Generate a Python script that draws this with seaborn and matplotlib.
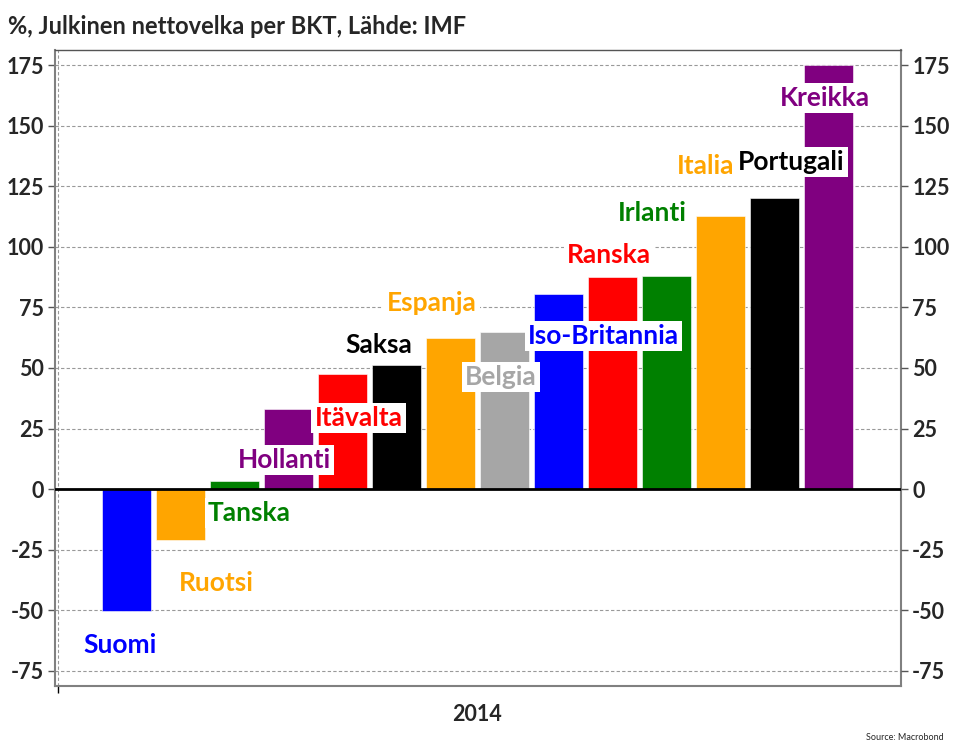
import matplotlib
matplotlib.use("Agg")
import matplotlib.pyplot as plt
import seaborn as sns
import pandas as pd

countries = ["Suomi", "Ruotsi", "Tanska", "Hollanti", "Itävalta", "Saksa", "Espanja",
             "Belgia", "Iso-Britannia", "Ranska", "Irlanti", "Italia", "Portugali", "Kreikka"]
values = [-50.2, -21.0, 3.4, 33.1, 47.5, 51.2, 62.4, 64.8, 80.5, 87.5, 87.9, 112.7, 120.1, 175.0]
colors = ["#0000FF", "#FFA500", "#008000", "#800080", "#FF0000", "#000000", "#FFA500",
          "#A6A6A6", "#0000FF", "#FF0000", "#008000", "#FFA500", "#000000", "#800080"]
label_x = [-0.11, 1.67, 2.28, 2.93, 4.30, 4.67, 5.65, 6.93, 8.83, 8.94, 9.74, 10.72, 12.31, 12.94]
label_y = [-64.3, -38.6, -9.8, 12.0, 29.4, 59.5, 76.8, 46.3, 63.2, 96.6, 114.0, 133.3, 135.0, 161.4]
yticks = [-75, -50, -25, 0, 25, 50, 75, 100, 125, 150, 175]
title = "%, Julkinen nettovelka per BKT, Lähde: IMF"
period = "2014"
source = "Source: Macrobond"

sns.set_theme(style="white")
plt.rcParams["font.family"] = ["Lato", "DejaVu Sans"]

fig = plt.figure(figsize=(9.56, 7.55), dpi=100)
ax = fig.add_axes([55/956, 69/755, 846/956, 636/755])

df = pd.DataFrame({"country": countries, "value": values})
sns.barplot(data=df, x="country", y="value", hue="country", palette=colors,
            order=countries, hue_order=countries, legend=False, width=0.9,
            saturation=1, edgecolor="white", linewidth=0.4, ax=ax, zorder=2)

ax.set_xlim(-1.32, 14.34)
ax.set_ylim(-81.2, 181.2)
ax.set_yticks(yticks)
ax.set_yticklabels([str(v) for v in yticks], fontsize=15.5, fontweight="bold")
for y in yticks:
    if y != 0:
        ax.axhline(y, color="#999999", linestyle=(0, (3, 2)), linewidth=0.8, zorder=0)
ax.axhline(0, color="black", linewidth=2, zorder=3)
ax.axvline(-1.26, color="#999999", linestyle=(0, (3, 2)), linewidth=0.8, zorder=0)

ax.set_xticks([-1.26])
ax.set_xticklabels([""])
ax.set_xticks([6.5], minor=True)
ax.set_xticklabels([period], minor=True, fontsize=15.5, fontweight="bold")
ax.tick_params(axis="x", which="minor", length=0, pad=13)
ax.tick_params(axis="x", which="major", length=5, width=1, color="black", direction="out", bottom=True)
ax.tick_params(axis="y", length=5, width=1, color="#555555", direction="out", left=True, pad=3)
ax.set_xlabel("")
ax.set_ylabel("")
for s in ax.spines.values():
    s.set_color("#808080")
    s.set_linewidth(1.5)
ax.spines["top"].set_color("#555555")
ax.spines["top"].set_linewidth(1.0)

ax2 = ax.twinx()
ax2.set_ylim(ax.get_ylim())
ax2.set_yticks(yticks)
ax2.set_yticklabels([str(v) for v in yticks], fontsize=15.5, fontweight="bold")
ax2.tick_params(axis="y", length=5, width=1, color="#555555", direction="out", right=True, pad=3)
for s in ax2.spines.values():
    s.set_visible(False)

for name, x, y, c in zip(countries, label_x, label_y, colors):
    ax.text(x, y, name, color=c, fontsize=19, fontweight="bold", ha="center", va="center",
            zorder=5, bbox=dict(boxstyle="square,pad=0.12", facecolor="white", edgecolor="none"))

fig.text(8/956, 1 - 27/755, title, fontsize=17, fontweight="bold", ha="left", va="center")
fig.text(944/956, 1 - 737/755, source, fontsize=6.5, ha="right", va="center")

fig.savefig("out.png", dpi=100)
